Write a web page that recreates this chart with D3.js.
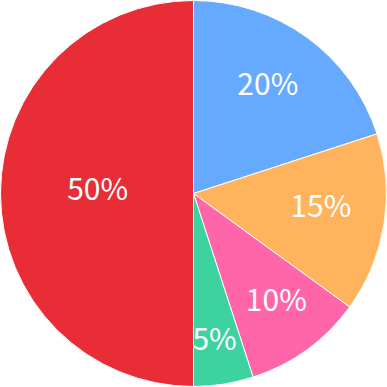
<!DOCTYPE html>
<html>
<head>
<meta charset="utf-8">
<script src="https://cdn.jsdelivr.net/npm/d3@7/dist/d3.min.js"></script>
<style>
  html, body { margin: 0; padding: 0; background: #fff; }
  svg { display: block; }
</style>
</head>
<body>
<svg id="chart" width="387" height="387"></svg>
<script>
// Slice shares, clockwise from 12 o'clock
const categories = ["A", "B", "C", "D", "E"];
const values = [20, 15, 10, 5, 50];
const labels = ["20%", "15%", "10%", "5%", "50%"];
const colors = ["#66aaff", "#ffb35c", "#ff66aa", "#3dd3a0", "#e82d36"];

// Label placement per slice: distance from centre (fraction of radius)
// and a small angular nudge from the slice's mid-angle (degrees)
const labelRadiusFrac = [0.685, 0.663, 0.70, 0.764, 0.497];
const labelAngleNudge = [-1.8, -3.2, -1.8, 0.8, 2.7];

const W = 387, H = 387;
const cx = 193.5, cy = 193.5, R = 193;

const svg = d3.select("#chart");
const g = svg.append("g").attr("transform", `translate(${cx},${cy})`);

const pie = d3.pie().sort(null).value(d => d.v);
const data = categories.map((c, i) => ({ c, v: values[i], i }));
const arcs = pie(data);

const arc = d3.arc().innerRadius(0).outerRadius(R);

g.selectAll("path.slice")
  .data(arcs)
  .join("path")
  .attr("class", "slice")
  .attr("d", arc)
  .attr("fill", d => colors[d.data.i])
  .attr("stroke", "#fff")
  .attr("stroke-width", 1);

g.selectAll("text.lbl")
  .data(arcs)
  .join("text")
  .attr("class", "lbl")
  .attr("transform", d => {
    const i = d.data.i;
    const r = R * labelRadiusFrac[i];
    const a = (d.startAngle + d.endAngle) / 2 + labelAngleNudge[i] * Math.PI / 180;
    return `translate(${r * Math.sin(a)},${-r * Math.cos(a)})`;
  })
  .attr("text-anchor", "middle")
  .attr("dy", "0.367em")
  .attr("fill", "#fff")
  .style("font-family", "'Noto Sans CJK SC', 'Noto Sans', sans-serif")
  .style("font-size", "30px")
  .text(d => labels[d.data.i]);
</script>
</body>
</html>
